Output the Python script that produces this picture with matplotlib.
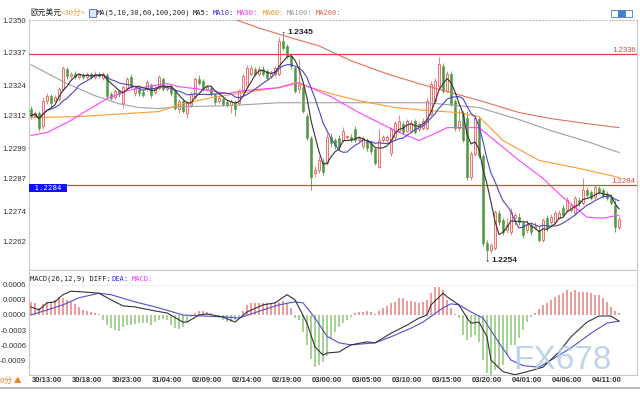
import matplotlib
matplotlib.use("Agg")
import matplotlib.pyplot as plt
from matplotlib.lines import Line2D
from matplotlib.patches import Rectangle
import numpy as np
import pandas as pd

plt.rcParams['font.family'] = ['Liberation Sans', 'Noto Sans CJK SC', 'DejaVu Sans']

# EUR/USD 30-minute candles
opens = [1.23148, 1.23120, 1.23132, 1.23080, 1.23179, 1.23199, 1.23179, 1.23187, 1.23227, 1.23306,
         1.23278, 1.23286, 1.23274, 1.23282, 1.23274, 1.23286, 1.23274, 1.23286, 1.23270, 1.23282,
         1.23207, 1.23195, 1.23219, 1.23171, 1.23231, 1.23274, 1.23211, 1.23227, 1.23215, 1.23227,
         1.23243, 1.23215, 1.23231, 1.23266, 1.23227, 1.23239, 1.23219, 1.23148, 1.23179, 1.23132,
         1.23163, 1.23195, 1.23266, 1.23258, 1.23227, 1.23231, 1.23203, 1.23179, 1.23187, 1.23175,
         1.23163, 1.23175, 1.23171, 1.23219, 1.23239, 1.23286, 1.23306, 1.23286, 1.23306, 1.23298,
         1.23278, 1.23286, 1.23286, 1.23417, 1.23397, 1.23357, 1.23310, 1.23227, 1.23235, 1.23120,
         1.23029, 1.22890, 1.22902, 1.22934, 1.22930, 1.23033, 1.23021, 1.23029, 1.23021, 1.23033,
         1.23033, 1.23068, 1.23021, 1.23001, 1.23021, 1.23009, 1.22989, 1.22914, 1.23021, 1.23021,
         1.22973, 1.23033, 1.23060, 1.23088, 1.23060, 1.23057, 1.23100, 1.23068, 1.23072, 1.23072,
         1.23128, 1.23179, 1.23239, 1.23318, 1.23219, 1.23286, 1.23179, 1.23072, 1.23128, 1.23112,
         1.22874, 1.22969, 1.23108, 1.22961, 1.22613, 1.22585, 1.22593, 1.22732, 1.22704, 1.22664,
         1.22657, 1.22712, 1.22716, 1.22692, 1.22664, 1.22684, 1.22672, 1.22664, 1.22625, 1.22712,
         1.22696, 1.22696, 1.22712, 1.22752, 1.22744, 1.22744, 1.22732, 1.22783, 1.22771, 1.22823,
         1.22815, 1.22795, 1.22831, 1.22823, 1.22807, 1.22795, 1.22763, 1.22676]
highs = [1.23159, 1.23140, 1.23140, 1.23195, 1.23211, 1.23207, 1.23203, 1.23235, 1.23318, 1.23314,
         1.23294, 1.23298, 1.23290, 1.23290, 1.23294, 1.23294, 1.23298, 1.23294, 1.23294, 1.23290,
         1.23215, 1.23227, 1.23223, 1.23243, 1.23274, 1.23286, 1.23239, 1.23235, 1.23227, 1.23262,
         1.23250, 1.23243, 1.23282, 1.23274, 1.23247, 1.23247, 1.23227, 1.23187, 1.23187, 1.23179,
         1.23215, 1.23274, 1.23282, 1.23266, 1.23243, 1.23239, 1.23211, 1.23199, 1.23195, 1.23183,
         1.23187, 1.23183, 1.23227, 1.23286, 1.23322, 1.23322, 1.23314, 1.23318, 1.23318, 1.23306,
         1.23302, 1.23318, 1.23433, 1.23449, 1.23405, 1.23365, 1.23318, 1.23345, 1.23243, 1.23132,
         1.23037, 1.22918, 1.22961, 1.22950, 1.23049, 1.23049, 1.23029, 1.23041, 1.23076, 1.23041,
         1.23045, 1.23080, 1.23037, 1.23037, 1.23029, 1.23017, 1.22997, 1.23068, 1.23041, 1.23041,
         1.23076, 1.23100, 1.23124, 1.23100, 1.23108, 1.23104, 1.23108, 1.23096, 1.23112, 1.23191,
         1.23258, 1.23270, 1.23353, 1.23330, 1.23298, 1.23298, 1.23187, 1.23148, 1.23140, 1.23140,
         1.22981, 1.23128, 1.23116, 1.22969, 1.22625, 1.22613, 1.22744, 1.22744, 1.22712, 1.22712,
         1.22752, 1.22736, 1.22732, 1.22704, 1.22704, 1.22696, 1.22696, 1.22680, 1.22712, 1.22724,
         1.22728, 1.22740, 1.22744, 1.22763, 1.22795, 1.22771, 1.22799, 1.22795, 1.22870, 1.22835,
         1.22823, 1.22843, 1.22839, 1.22831, 1.22819, 1.22803, 1.22783, 1.22720]
lows = [1.23108, 1.23112, 1.23057, 1.23068, 1.23167, 1.23159, 1.23175, 1.23179, 1.23219, 1.23266,
        1.23270, 1.23266, 1.23266, 1.23266, 1.23266, 1.23266, 1.23266, 1.23270, 1.23262, 1.23191,
        1.23183, 1.23187, 1.23195, 1.23152, 1.23219, 1.23231, 1.23199, 1.23199, 1.23195, 1.23219,
        1.23191, 1.23207, 1.23223, 1.23219, 1.23219, 1.23199, 1.23144, 1.23132, 1.23132, 1.23112,
        1.23155, 1.23187, 1.23243, 1.23219, 1.23219, 1.23199, 1.23163, 1.23171, 1.23159, 1.23155,
        1.23132, 1.23120, 1.23163, 1.23211, 1.23231, 1.23278, 1.23278, 1.23278, 1.23278, 1.23262,
        1.23270, 1.23278, 1.23278, 1.23381, 1.23349, 1.23306, 1.23211, 1.23211, 1.23132, 1.23021,
        1.22823, 1.22874, 1.22890, 1.22882, 1.22922, 1.22997, 1.22989, 1.22981, 1.23013, 1.23025,
        1.23013, 1.23013, 1.23013, 1.22989, 1.22981, 1.22969, 1.22922, 1.22910, 1.23013, 1.23013,
        1.22961, 1.23021, 1.23053, 1.23045, 1.23053, 1.23049, 1.23045, 1.23057, 1.23064, 1.23064,
        1.23120, 1.23171, 1.23231, 1.23211, 1.23211, 1.23159, 1.23060, 1.23060, 1.23013, 1.22862,
        1.22862, 1.22961, 1.22950, 1.22601, 1.22542, 1.22573, 1.22585, 1.22684, 1.22645, 1.22653,
        1.22645, 1.22684, 1.22684, 1.22633, 1.22653, 1.22645, 1.22664, 1.22617, 1.22617, 1.22660,
        1.22688, 1.22688, 1.22708, 1.22716, 1.22736, 1.22736, 1.22724, 1.22760, 1.22763, 1.22791,
        1.22783, 1.22787, 1.22807, 1.22791, 1.22783, 1.22763, 1.22657, 1.22668]
closes = [1.23120, 1.23132, 1.23072, 1.23179, 1.23199, 1.23171, 1.23195, 1.23227, 1.23310, 1.23278,
          1.23286, 1.23274, 1.23282, 1.23274, 1.23286, 1.23274, 1.23286, 1.23278, 1.23286, 1.23199,
          1.23191, 1.23219, 1.23207, 1.23235, 1.23266, 1.23239, 1.23231, 1.23211, 1.23203, 1.23254,
          1.23203, 1.23231, 1.23274, 1.23227, 1.23239, 1.23211, 1.23152, 1.23179, 1.23140, 1.23171,
          1.23207, 1.23266, 1.23250, 1.23227, 1.23235, 1.23207, 1.23175, 1.23191, 1.23167, 1.23163,
          1.23179, 1.23148, 1.23219, 1.23278, 1.23310, 1.23310, 1.23286, 1.23306, 1.23286, 1.23270,
          1.23290, 1.23310, 1.23417, 1.23389, 1.23357, 1.23318, 1.23219, 1.23243, 1.23140, 1.23029,
          1.22874, 1.22902, 1.22942, 1.22894, 1.23033, 1.23009, 1.23001, 1.22997, 1.23060, 1.23037,
          1.23021, 1.23021, 1.23029, 1.23029, 1.22993, 1.22981, 1.22930, 1.23021, 1.23033, 1.23033,
          1.23068, 1.23092, 1.23100, 1.23053, 1.23100, 1.23092, 1.23053, 1.23088, 1.23100, 1.23179,
          1.23247, 1.23258, 1.23326, 1.23219, 1.23286, 1.23167, 1.23072, 1.23100, 1.23021, 1.22874,
          1.22969, 1.23112, 1.22961, 1.22613, 1.22585, 1.22605, 1.22736, 1.22696, 1.22657, 1.22684,
          1.22736, 1.22724, 1.22696, 1.22645, 1.22684, 1.22657, 1.22680, 1.22625, 1.22704, 1.22672,
          1.22716, 1.22732, 1.22732, 1.22724, 1.22783, 1.22763, 1.22791, 1.22771, 1.22823, 1.22803,
          1.22791, 1.22835, 1.22815, 1.22799, 1.22791, 1.22771, 1.22676, 1.22708]

# long moving averages (candle index, price)
ma30_x = [0, 4, 9, 14, 19, 24, 29, 34, 37, 45, 49, 53, 62, 67, 70, 75, 82, 91, 97, 101, 104, 112, 119, 122, 128, 133, 139, 143, 147]
ma30_y = [1.23041, 1.23053, 1.23092, 1.23140, 1.23187, 1.23219, 1.23235, 1.23247, 1.23235, 1.23219,
          1.23207, 1.23219, 1.23231, 1.23251, 1.23231, 1.23195, 1.23132, 1.23060, 1.23021, 1.23049,
          1.23072, 1.23072, 1.22981, 1.22942, 1.22870, 1.22795, 1.22716, 1.22712, 1.22724]
ma60_x = [0, 12, 24, 32, 37, 45, 53, 62, 66, 70, 75, 82, 91, 99, 107, 112, 118, 127, 137, 147]
ma60_y = [1.23112, 1.23116, 1.23128, 1.23136, 1.23163, 1.23191, 1.23211, 1.23231, 1.23251, 1.23231,
          1.23207, 1.23179, 1.23152, 1.23140, 1.23132, 1.23116, 1.23021, 1.22942, 1.22910, 1.22874]
ma100_x = [0, 9, 16, 22, 27, 32, 37, 49, 62, 75, 99, 112, 122, 130, 139, 147]
ma100_y = [1.23322, 1.23247, 1.23199, 1.23167, 1.23152, 1.23148, 1.23155, 1.23159, 1.23171, 1.23171,
           1.23171, 1.23152, 1.23104, 1.23060, 1.23017, 1.22973]
ma200_x = [50, 57, 65, 72, 80, 89, 97, 106, 114, 122, 130, 139, 147]
ma200_y = [1.23508, 1.23468, 1.23429, 1.23397, 1.23338, 1.23286, 1.23247, 1.23207, 1.23171, 1.23132,
           1.23108, 1.23088, 1.23072]

# MACD(26,12,9)
hist = [0.00026, 0.00023, 0.00013, 0.00022, 0.00026, 0.00026, 0.00030, 0.00036, 0.00033, 0.00030,
        0.00026, 0.00022, 0.00016, 0.00010, 0.00008, 0.00005, 0.00003, 0.00001,
        -0.00010, -0.00020, -0.00026, -0.00030, -0.00031, -0.00023, -0.00020, -0.00020, -0.00018, -0.00016,
        -0.00016, -0.00016, -0.00020, -0.00013, -0.00010, -0.00007, -0.00009, -0.00020, -0.00026, -0.00028,
        -0.00023, -0.00013, -0.00003,
        0.00003, 0.00007, 0.00007, 0.00005, 0.00003,
        -0.00002, -0.00005, -0.00009, -0.00013, -0.00013, -0.00010, -0.00003,
        0.00007, 0.00020, 0.00023, 0.00024, 0.00024, 0.00023, 0.00024, 0.00024, 0.00023, 0.00026,
        0.00028, 0.00023, 0.00013,
        -0.00005, -0.00009, -0.00033, -0.00059, -0.00086, -0.00102, -0.00099, -0.00092, -0.00080, -0.00046,
        -0.00033, -0.00023, -0.00016, -0.00009, -0.00003,
        0.00003, 0.00005, 0.00006, 0.00008, 0.00005, 0.00001, 0.00007, 0.00013, 0.00018, 0.00023,
        0.00026, 0.00033, 0.00033, 0.00028, 0.00028, 0.00026, 0.00024, 0.00026, 0.00030, 0.00043,
        0.00056, 0.00056, 0.00049, 0.00030, 0.00013, 0.00001,
        -0.00005, -0.00039, -0.00049, -0.00043, -0.00039, -0.00053, -0.00089, -0.00115, -0.00118, -0.00109,
        -0.00102, -0.00099, -0.00079, -0.00059, -0.00059, -0.00046, -0.00030, -0.00013, -0.00003,
        0.00003, 0.00011, 0.00020, 0.00023, 0.00030, 0.00036, 0.00039, 0.00043, 0.00049, 0.00046,
        0.00049, 0.00046, 0.00046, 0.00046, 0.00044, 0.00039, 0.00039, 0.00033, 0.00026, 0.00016,
        0.00007, 0.00003]
diff_x = [0, 2, 4, 6, 8, 10, 14, 17, 20, 23, 26, 31, 34, 38, 39, 42, 44, 48, 51, 54,
          58, 61, 64, 66, 69, 71, 73, 74, 77, 80, 84, 86, 90, 94, 97, 99, 100, 103, 104, 107,
          109, 110, 112, 114, 115, 118, 121, 124, 128, 132, 135, 139, 142, 145, 147]
diff_y = [0.00016, 0.00010, 0.00024, 0.00026, 0.00040, 0.00047, 0.00045, 0.00043, 0.00030, 0.00018,
          0.00016, 0.00008, 0.00004, -0.00014, -0.00014, 0.00000, 0.00002, -0.00004, -0.00014, 0.00006,
          0.00020, 0.00024, 0.00040, 0.00030, -0.00016, -0.00063, -0.00079, -0.00075, -0.00073, -0.00059,
          -0.00053, -0.00055, -0.00036, -0.00020, -0.00006, 0.00000, 0.00020, 0.00043, 0.00036, 0.00020,
          -0.00006, -0.00016, -0.00014, -0.00043, -0.00089, -0.00112, -0.00118, -0.00112, -0.00103, -0.00073,
          -0.00043, -0.00014, -0.00002, -0.00002, -0.00012]
dea_x = [0, 8, 12, 17, 20, 26, 32, 38, 43, 49, 52, 58, 62, 66, 68, 71, 74, 77, 80, 86,
         90, 95, 98, 103, 105, 107, 110, 113, 117, 120, 123, 127, 130, 135, 140, 144, 147]
dea_y = [0.0, 0.00020, 0.00034, 0.00043, 0.00040, 0.00026, 0.00014, 0.0, -0.00002, -0.00004,
         -0.00006, 0.00010, 0.00020, 0.00026, 0.00024, -0.00006, -0.00042, -0.00055, -0.00059, -0.00055,
         -0.00043, -0.00026, -0.00014, 0.00014, 0.00022, 0.00020, 0.00006, -0.00006, -0.00055, -0.00089,
         -0.00100, -0.00103, -0.00089, -0.00065, -0.00036, -0.00016, -0.00012]

time_labels = ['30/13:00', '30/18:00', '30/23:00', '31/04:00', '02/09:00', '02/14:00', '02/19:00',
               '03/00:00', '03/05:00', '03/10:00', '03/15:00', '03/20:00', '04/01:00', '04/06:00', '04/11:00']
price_ticks = [1.2350, 1.2337, 1.2324, 1.2312, 1.2299, 1.2287, 1.2274, 1.2262]
macd_ticks = [0.0006, 0.0003, 0.0, -0.0003, -0.0006, -0.0009]
levels = [1.23365, 1.22843]
level_labels = ['1.2336', '1.2284']

W, H = 640, 400
fig = plt.figure(figsize=(6.4, 4.0), dpi=100)


def box(x0, y0, x1, y1):
    return [x0 / W, 1 - y1 / H, (x1 - x0) / W, (y1 - y0) / H]


ax = fig.add_axes(box(29, 20, 637, 270))
ax2 = fig.add_axes(box(29, 272, 637, 374.5))

o = np.array(opens)
h = np.array(highs)
l = np.array(lows)
c = np.array(closes)
idx = np.arange(len(c))
up = c >= o

# candles
ax.vlines(idx[up], l[up], h[up], color='#e8847c', lw=0.7, zorder=2)
ax.vlines(idx[~up], l[~up], h[~up], color='#6aaa5a', lw=0.7, zorder=2)
ax.bar(idx[up], (c - o)[up], bottom=o[up], width=0.72, facecolor='#fdf0f0',
       edgecolor='#e4605a', lw=0.6, zorder=3)
ax.bar(idx[~up], (o - c)[~up], bottom=c[~up], width=0.72, facecolor='#4e9a3e',
       edgecolor='#4e9a3e', lw=0.4, zorder=3)

# moving averages
s = pd.Series(closes)
ax.plot(ma200_x, ma200_y, color='#e2705f', lw=0.8, zorder=4)
ax.plot(ma100_x, ma100_y, color='#a0a0a0', lw=0.8, zorder=4)
ax.plot(ma60_x, ma60_y, color='#ff9a33', lw=0.8, zorder=4)
ax.plot(ma30_x, ma30_y, color='#ff44ff', lw=0.8, zorder=4)
ax.plot(idx, s.rolling(10, min_periods=1).mean(), color='#4848c8', lw=0.8, zorder=5)
ax.plot(idx, s.rolling(5, min_periods=1).mean(), color='#333333', lw=0.8, zorder=5)

# horizontal levels
for v, lab in zip(levels, level_labels):
    ax.axhline(v, color='#e8413c', lw=0.9, zorder=4)
    ax.text(0.998, v, lab, transform=ax.get_yaxis_transform(), ha='right', va='bottom',
            color='#e8413c', fontsize=5.6, zorder=6)
ax.text(0.002, levels[1], ' ' + level_labels[1] + ' ', transform=ax.get_yaxis_transform(),
        ha='left', va='top', color='white', fontsize=5.3, family='DejaVu Sans Mono', zorder=6,
        bbox=dict(facecolor='#1010ff', edgecolor='none', pad=0.6))

# high / low marks
hi = int(np.argmax(h))
lo = int(np.argmin(l))
for i, v in ((hi, h[hi]), (lo, l[lo])):
    ax.annotate(f'{v:.4f}', xy=(i, v), xytext=(3, 0), textcoords='offset points',
                ha='left', va='center', fontsize=6, fontweight='bold', color='#222222',
                arrowprops=dict(arrowstyle='-', color='#222222', lw=0.6, shrinkA=0, shrinkB=0),
                zorder=7)

# MACD panel
hv = np.array(hist)
hx = np.arange(len(hv))
ax2.bar(hx[hv >= 0], hv[hv >= 0], width=0.38, color='#ec9c9c', lw=0, zorder=2)
ax2.bar(hx[hv < 0], hv[hv < 0], width=0.38, color='#a6d296', lw=0, zorder=2)
ax2.plot(dea_x, dea_y, color='#5050d0', lw=0.8, zorder=3)
ax2.plot(diff_x, diff_y, color='#333333', lw=0.8, zorder=4)
ax2.axhline(macd_ticks[0], color='#cccccc', lw=0.6, ls=(0, (1, 2)), zorder=1)

for a in (ax, ax2):
    a.set_xlim(-0.5, 151.5)
    for side in ('top', 'bottom', 'left', 'right'):
        a.spines[side].set_color('#c8c8c8')
        a.spines[side].set_linewidth(0.8)
    a.tick_params(axis='y', length=0, labelsize=5.6, pad=2, labelcolor='#333333')
    a.tick_params(axis='x', length=0)
ax.spines['top'].set_linestyle((0, (1, 2)))
ax.spines['top'].set_color('#bbbbbb')
ax2.spines['top'].set_visible(False)

ax.set_ylim(1.22506, 1.23496)
ax.set_yticks(price_ticks)
ax.set_yticklabels([f'{t:.4f}' for t in price_ticks])
ax.set_xticks([])

ax2.set_ylim(-0.001175, 0.000849)
ax2.set_yticks(macd_ticks)
ax2.set_yticklabels([f'{t:.4f}' for t in macd_ticks])
ax2.set_xticks(4 + 10 * np.arange(len(time_labels)))
ax2.set_xticklabels(time_labels, fontsize=5.5, fontweight='bold', color='#333333')
ax2.tick_params(axis='x', pad=2)

# legend rows
cjk = ['Noto Sans CJK SC', 'DejaVu Sans']
mono = 'DejaVu Sans Mono'
yl = 1 - 13 / H
fig.text(30 / W, yl, '欧元美元', fontsize=5.6, color='#222222', va='center', family=cjk)
fig.text(61 / W, yl, '<30分>', fontsize=5.6, color='#f0a040', va='center', family=cjk)
fig.add_artist(Rectangle((89 / W, 1 - 17 / H), 7 / W, 8 / H, transform=fig.transFigure,
                         facecolor='#dde8ff', edgecolor='#5060c0', lw=0.6))
for px, txt, col in ((97, 'MA(5,10,30,60,100,200)', '#222222'), (193, 'MA5:', '#222222'),
                     (213, 'MA10:', '#3030d0'), (237, 'MA30:', '#ff30ff'), (263, 'MA60:', '#ff9020'),
                     (287, 'MA100:', '#999999'), (316, 'MA200:', '#e06050')):
    fig.text(px / W, yl, txt, fontsize=5.1, color=col, va='center', family=mono)

ym = 1 - 279 / H
for px, txt, col in ((30, 'MACD(26,12,9) DIFF:', '#222222'), (111, 'DEA:', '#3030d0'),
                     (132, 'MACD:', '#ff30ff')):
    fig.text(px / W, ym, txt, fontsize=5.1, color=col, va='center', family=mono)

# top-right buttons
for k, fc in enumerate(('#ffffff', '#3f7fd0', '#ffffff')):
    fig.add_artist(Rectangle(((611 + 7 * k) / W, 1 - 17 / H), 6.5 / W, 7 / H,
                             transform=fig.transFigure, facecolor=fc, edgecolor='#3f7fd0', lw=0.6))

# bottom band
fig.add_artist(Line2D([0, 1], [1 - 388 / H] * 2, color='#b0b0b0', lw=1.2))
fig.text(0.0, 1 - 381 / H, '0分 ▲', fontsize=5.6, color='#f08020', va='center', family=cjk)

# watermark
fig.text(513 / W, 1 - 376 / H, 'FX678', fontsize=24, color='#b4cce8', alpha=0.85,
         va='bottom', ha='left', zorder=10)

fig.savefig('out.png', dpi=100)
